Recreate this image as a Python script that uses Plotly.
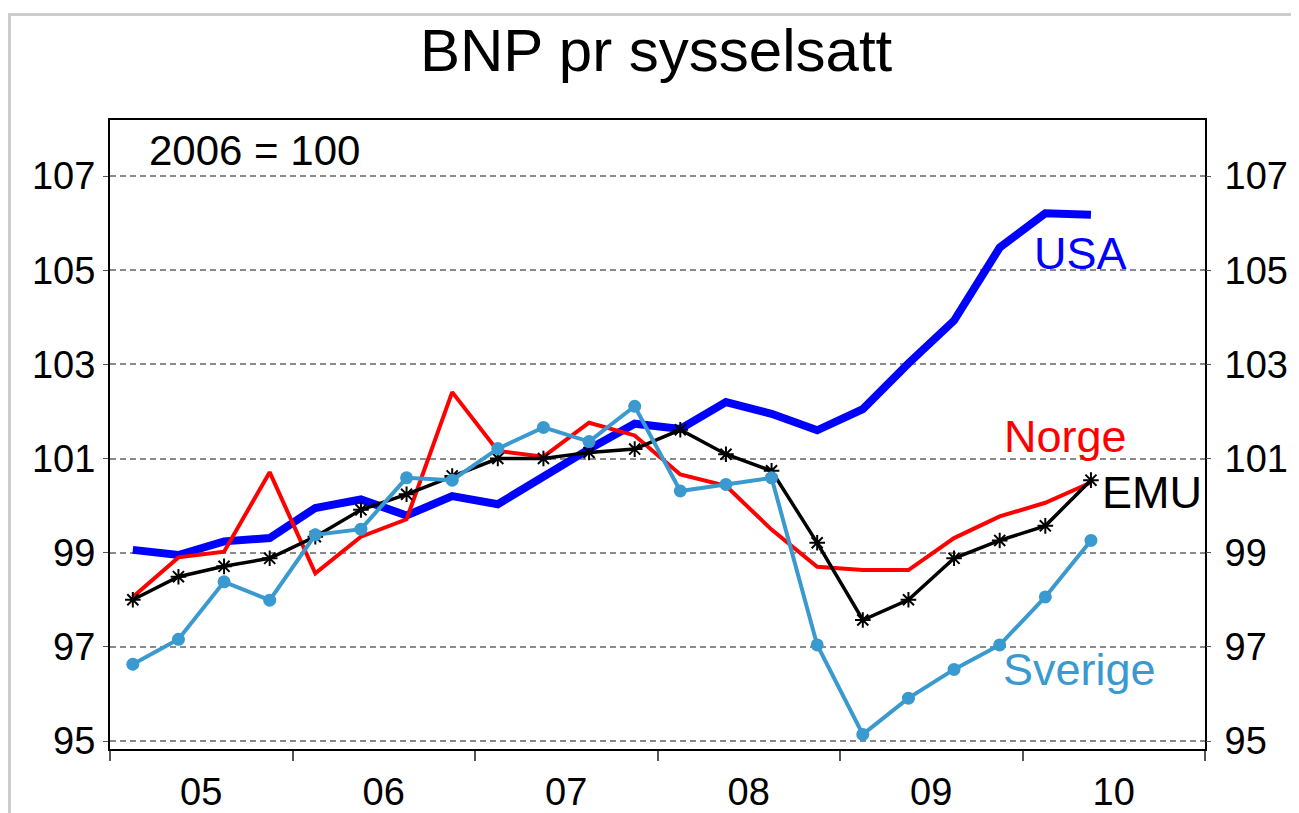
import plotly.graph_objects as go

# quarters 2005Q1 .. 2010Q2, x = quarter index
quarters = list(range(22))
year_labels = ['05', '06', '07', '08', '09', '10']

usa = [99.06, 98.95, 99.24, 99.31, 99.95, 100.13, 99.79, 100.2,
       100.03, 100.63, 101.2, 101.74, 101.63, 102.2, 101.95, 101.6,
       102.05, 103.02, 103.93, 105.48, 106.21, 106.18]
norge = [98.06, 98.9, 99.02, 100.71, 98.56, 99.34, 99.71, 102.41,
         101.16, 101.04, 101.76, 101.49, 100.66, 100.42, 99.49, 98.7,
         98.63, 98.63, 99.31, 99.77, 100.06, 100.49]
emu = [98.0, 98.49, 98.71, 98.88, 99.34, 99.91, 100.24, 100.63,
       101.0, 101.0, 101.13, 101.2, 101.61, 101.09, 100.74, 99.21,
       97.57, 98.0, 98.88, 99.26, 99.57, 100.54]
sverige = [96.63, 97.16, 98.38, 97.99, 99.38, 99.5, 100.59, 100.54,
           101.21, 101.66, 101.36, 102.11, 100.31, 100.45, 100.59, 97.04,
           95.14, 95.91, 96.52, 97.04, 98.06, 99.26]

FONT = 'Liberation Sans, Arial, sans-serif'
LIGHTBLUE = '#3A9AD0'

fig = go.Figure()
fig.add_trace(go.Scatter(x=quarters, y=usa, mode='lines',
                         line=dict(color='#0000FF', width=8)))
fig.add_trace(go.Scatter(x=quarters, y=norge, mode='lines',
                         line=dict(color='#FF0000', width=4)))
fig.add_trace(go.Scatter(x=quarters, y=emu, mode='lines+markers',
                         line=dict(color='black', width=3.5),
                         marker=dict(symbol='asterisk-open', size=13,
                                     line=dict(color='black', width=2))))
fig.add_trace(go.Scatter(x=quarters, y=sverige, mode='lines+markers',
                         line=dict(color=LIGHTBLUE, width=4),
                         marker=dict(symbol='circle', size=13, color=LIGHTBLUE)))
# invisible trace so the right-hand axis gets drawn
fig.add_trace(go.Scatter(x=quarters, y=usa, yaxis='y2', mode='lines',
                         line=dict(width=0, color='rgba(0,0,0,0)'),
                         hoverinfo='skip'))

yr = [94.83, 108.19]
ticks_y = [95, 97, 99, 101, 103, 105, 107]

fig.update_xaxes(
    range=[-0.5, 23.5],
    tickmode='array',
    tickvals=[1.5 + 4 * i for i in range(6)],
    ticktext=year_labels,
    ticks='',
    ticklabelstandoff=8,
    showgrid=False,
    showline=True, linecolor='black', linewidth=2, mirror=True,
    minor=dict(tick0=-0.5, dtick=4, ticks='outside', ticklen=10,
               tickcolor='#555', tickwidth=1.5, showgrid=False),
    tickfont=dict(size=38, color='black', family=FONT),
    zeroline=False, automargin=False,
)
fig.update_yaxes(
    range=yr,
    tickmode='array', tickvals=ticks_y,
    ticks='outside', ticklen=5, tickcolor='#555',
    showgrid=True, gridcolor='#8a8a8a', gridwidth=1.5, griddash='6px,4px',
    showline=True, linecolor='black', linewidth=2, mirror=True,
    tickfont=dict(size=38, color='black', family=FONT),
    zeroline=False, automargin=False,
)

fig.update_layout(
    yaxis2=dict(range=yr, overlaying='y', side='right', anchor='x',
                tickmode='array', tickvals=ticks_y,
                ticks='outside', ticklen=5, tickcolor='#555',
                ticklabelstandoff=6,
                showgrid=False, zeroline=False, automargin=False,
                tickfont=dict(size=38, color='black', family=FONT)),
)

# labels on the lines
labels = [('USA', 20.78, 105.36, '#0000FF'),
          ('Norge', 20.45, 101.46, '#FF0000'),
          ('EMU', 22.34, 100.27, 'black'),
          ('Sverige', 20.76, 96.51, LIGHTBLUE)]
for txt, lx, ly, col in labels:
    fig.add_annotation(x=lx, y=ly, text=txt, showarrow=False,
                       xanchor='center', yanchor='middle',
                       font=dict(size=45, color=col, family=FONT))

fig.add_annotation(x=0.034, y=0.952, xref='paper', yref='paper',
                   text='2006 = 100', showarrow=False,
                   xanchor='left', yanchor='middle',
                   font=dict(size=42, color='black', family=FONT))

# light outer frame
fig.add_shape(type='rect', xref='paper', yref='paper',
              x0=-0.0918, y0=-0.3, x1=1.3, y1=1.1677,
              line=dict(color='#cccccc', width=3), layer='below')

# page body adds ~8px offset, so the figure is 8px smaller
fig.update_layout(
    width=1291, height=805,
    margin=dict(l=102, r=94, t=112, b=64),
    plot_bgcolor='white', paper_bgcolor='white',
    showlegend=False,
    title=dict(text='BNP pr sysselsatt', x=0.502, y=0.948,
               xanchor='center', yanchor='middle',
               font=dict(size=60, color='black', family=FONT)),
)

fig.write_html("out.html")
